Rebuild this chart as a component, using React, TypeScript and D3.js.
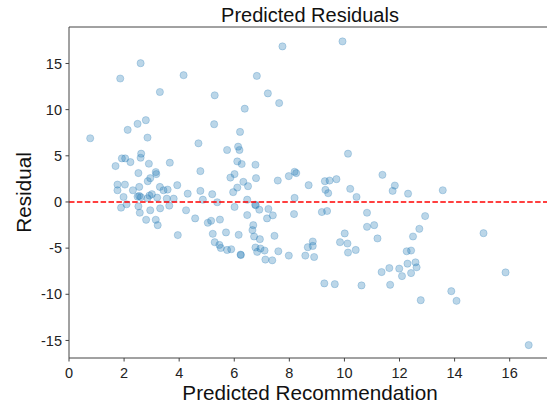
import React from 'react';
import * as d3 from 'd3';

// predicted recommendation (x) and residual (y)
const predicted = [
  2.6, 1.86, 4.16, 3.3, 5.29, 2.79, 2.49, 2.13, 5.27, 0.77, 2.85, 4.7, 5.74, 2.62, 1.92, 2.04, 2.6, 2.23, 1.69, 2.9,
  3.66, 4.77, 2.52, 3.15, 3.17, 2.95, 2.86, 5.86, 1.76, 2.03, 2.55, 3.3, 3.93, 1.76, 2.32, 3.43, 3.58, 4.31, 4.77, 5.2,
  2.49, 2.55, 2.61, 2.92, 3.01, 2.85, 3.55, 3.8, 4.86, 1.98, 3.2, 5.38, 1.89, 2.09, 2.52, 2.57, 2.95, 3.31, 3.64, 4.25,
  2.8, 3.15, 3.22, 3.95, 4.58, 5.04, 5.16, 5.48, 5.22, 5.29, 5.46, 5.51, 5.7, 5.74, 5.89, 7.75, 9.93, 6.82, 7.22, 7.63,
  6.38, 6.21, 6.14, 6.19, 6.11, 6.27, 6.77, 10.13, 6.01, 6.79, 6.33, 6.5, 6.11, 5.96, 6.47, 7.58, 7.98, 8.19, 8.25, 8.7,
  9.29, 9.46, 9.71, 9.31, 9.41, 10.21, 10.44, 11.38, 8.19, 6.76, 6.78, 6.01, 6.47, 6.91, 7.24, 7.4, 7.19, 8.17, 9.18, 9.37,
  10.82, 6.69, 6.66, 6.16, 6.72, 6.93, 7.46, 6.23, 6.24, 6.77, 6.83, 6.95, 7.1, 7.13, 7.38, 7.6, 7.98, 8.58, 8.67, 8.85,
  8.85, 8.9, 10.01, 9.84, 10.11, 10.13, 10.41, 10.82, 11.08, 11.2, 11.35, 11.63, 9.27, 9.65, 10.62, 11.66, 11.83, 11.75, 12.31, 13.57,
  12.93, 12.72, 12.49, 15.05, 12.26, 12.42, 12.29, 12.58, 12.62, 12.42, 11.99, 12.09, 12.77, 13.88, 14.07, 15.85, 16.69,
];
const residual = [
  15.03, 13.37, 13.73, 11.91, 11.55, 8.86, 8.46, 7.81, 8.42, 6.9, 6.97, 6.35, 5.63, 5.23, 4.72, 4.72, 4.79, 4.32, 3.89, 4.14,
  4.25, 3.34, 3.13, 3.24, 3.02, 2.58, 2.25, 2.64, 1.88, 1.88, 1.63, 1.63, 1.82, 1.27, 1.27, 1.27, 1.34, 0.9, 1.2, 0.84,
  0.58, 0.65, 0.52, 0.69, 0.84, 0.4, 0.36, 0.36, 0.25, 0.54, 0.47, -0.03, -0.62, -0.25, -0.47, -1.17, -0.9, -0.69, -0.4, -0.9,
  -1.93, -1.93, -2.51, -3.59, -1.78, -2.25, -2.04, -1.91, -3.45, -4.36, -4.65, -4.98, -3.3, -5.2, -5.12, 16.85, 17.39, 13.65, 11.76, 10.71,
  10.1, 7.59, 5.99, 5.63, 4.39, 4.11, 4.03, 5.23, 3.02, 2.58, 2.18, 1.71, 1.56, 1.06, 0.25, 2.32, 2.8, 3.27, 3.13, 1.82,
  2.25, 2.32, 2.47, 1.31, 0.95, 1.42, 0.54, 2.94, 0.44, -0.29, -0.36, -0.54, -1.42, -0.84, -0.76, -1.45, -1.78, -1.31, -1.09, -0.98,
  -1.17, -2.51, -3.05, -3.56, -3.74, -4.03, -3.67, -5.7, -5.75, -4.93, -5.41, -5.04, -5.26, -6.24, -6.32, -5.34, -5.81, -5.81, -4.9, -4.28,
  -4.76, -5.96, -3.41, -4.36, -4.5, -5.48, -5.2, -2.69, -2.51, -3.95, -7.59, -7.16, -8.82, -8.9, -9.04, -8.97, 1.78, 1.2, 0.9, 1.27,
  -1.53, -2.91, -3.74, -3.38, -5.34, -5.26, -6.68, -6.54, -7.08, -7.7, -7.22, -8.03, -10.64, -9.66, -10.71, -7.63, -15.5,
];
const xTicks = [0, 2, 4, 6, 8, 10, 12, 14, 16];
const yTicks = [-15, -10, -5, 0, 5, 10, 15];

const W = 547;
const H = 405;
const left = 69;
const right = 551;
const top = 27;
const bottom = 358;
const font = '"Liberation Sans", Arial, sans-serif';

const App = () => {
  const x = d3.scaleLinear().domain([0, 17.5]).range([left, right]);
  const y = d3.scaleLinear().domain([-16.9, 18.95]).range([bottom, top]);
  const points = predicted.map((p, i) => ({ p, r: residual[i] }));

  return (
    <svg width={W} height={H} style={{ position: 'absolute', left: 0, top: 0 }}>
      <rect width={W} height={H} fill="#fff" />
      <g>
        {points.map((d, i) => (
          <circle
            key={i}
            cx={x(d.p)}
            cy={y(d.r)}
            r={3.6}
            fill="#1f77b4"
            fillOpacity={0.3}
            stroke="#1f77b4"
            strokeOpacity={0.3}
            strokeWidth={0.8}
          />
        ))}
      </g>
      <line x1={left} x2={right} y1={y(0)} y2={y(0)} stroke="red" strokeWidth={1.5} strokeDasharray="5.5,2.4" />
      <path
        d={`M${right},${top}H${left}V${bottom}H${right}`}
        fill="none"
        stroke="#444"
        strokeWidth={1}
      />
      {xTicks.map(t => (
        <g key={t} transform={`translate(${x(t)},${bottom})`}>
          <line y2={3.5} stroke="#444" />
          <text y={19.5} textAnchor="middle" fontFamily={font} fontSize={14.5} fill="#222">
            {t}
          </text>
        </g>
      ))}
      {yTicks.map(t => (
        <g key={t} transform={`translate(${left},${y(t)})`}>
          <line x2={-3.5} stroke="#444" />
          <text x={-7} dy="0.35em" textAnchor="end" fontFamily={font} fontSize={14.5} fill="#222">
            {t}
          </text>
        </g>
      ))}
      <text x={310} y={22} textAnchor="middle" fontFamily={font} fontSize={20} fill="#111">
        Predicted Residuals
      </text>
      <text x={310} y={400} textAnchor="middle" fontFamily={font} fontSize={20.7} fill="#111">
        Predicted Recommendation
      </text>
      <text
        transform={`translate(31,${(top + bottom) / 2}) rotate(-90)`}
        textAnchor="middle"
        fontFamily={font}
        fontSize={20.7}
        fill="#111"
      >
        Residual
      </text>
    </svg>
  );
};

export default App;
